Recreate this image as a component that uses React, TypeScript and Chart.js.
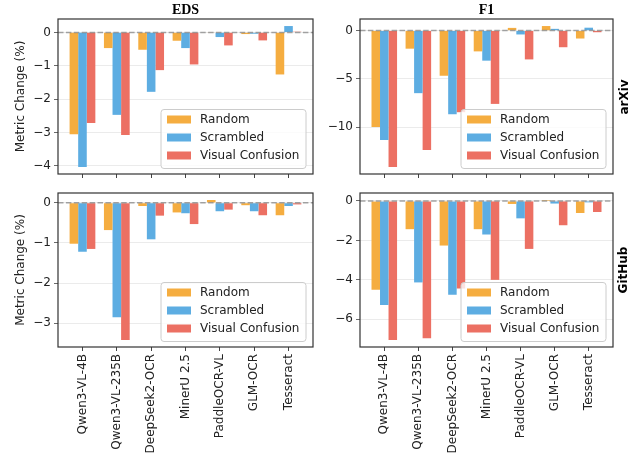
import React, { useEffect, useRef } from 'react';
import { Chart, registerables } from 'chart.js';

Chart.register(...registerables);

const categories = ['Qwen3-VL-4B', 'Qwen3-VL-235B', 'DeepSeek2-OCR', 'MinerU 2.5', 'PaddleOCR-VL', 'GLM-OCR', 'Tesseract'];
const seriesNames = ['Random', 'Scrambled', 'Visual Confusion'];
const seriesColors = ['#F5AD40', '#5DADE2', '#EC7063'];

// EDS, arXiv
const edsArxivRandom = [-3.05, -0.47, -0.52, -0.25, -0.01, -0.05, -1.26];
const edsArxivScrambled = [-4.03, -2.47, -1.78, -0.47, -0.14, -0.04, 0.19];
const edsArxivConfusion = [-2.71, -3.07, -1.13, -0.96, -0.39, -0.24, 0.02];
// F1, arXiv
const f1ArxivRandom = [-9.97, -1.87, -4.67, -2.15, 0.28, 0.47, -0.82];
const f1ArxivScrambled = [-11.3, -6.47, -8.65, -3.11, -0.4, 0.18, 0.3];
const f1ArxivConfusion = [-14.1, -12.35, -8.44, -7.58, -2.98, -1.72, -0.17];
// EDS, GitHub
const edsGithubRandom = [-1.02, -0.68, -0.08, -0.24, 0.07, -0.06, -0.31];
const edsGithubScrambled = [-1.22, -2.85, -0.91, -0.26, -0.21, -0.21, -0.08];
const edsGithubConfusion = [-1.15, -3.42, -0.32, -0.53, -0.17, -0.31, -0.04];
// F1, GitHub
const f1GithubRandom = [-4.5, -1.43, -2.26, -1.43, -0.15, 0.05, -0.61];
const f1GithubScrambled = [-5.28, -4.13, -4.76, -1.7, -0.88, -0.13, -0.07];
const f1GithubConfusion = [-7.05, -6.96, -4.44, -4.0, -2.43, -1.23, -0.56];

const edsArxivTicks = [0, -1, -2, -3, -4];
const f1ArxivTicks = [0, -5, -10];
const edsGithubTicks = [0, -1, -2, -3];
const f1GithubTicks = [0, -2, -4, -6];

const FONT = '"DejaVu Sans", sans-serif';
const TEXT = '#222222';

const fmt = (v: number) => (v < 0 ? '\u2212' + Math.abs(v) : String(v));

const decor = {
  id: 'decor',
  afterDatasetsDraw(chart: any) {
    const { ctx, chartArea: a, scales } = chart;
    const y0 = scales.y.getPixelForValue(0);
    ctx.save();
    // zero line
    ctx.beginPath();
    ctx.setLineDash([5.5, 2.4]);
    ctx.strokeStyle = 'rgba(128,128,128,0.7)';
    ctx.lineWidth = 1.5;
    ctx.moveTo(a.left, y0);
    ctx.lineTo(a.right, y0);
    ctx.stroke();
    ctx.setLineDash([]);
    // frame
    ctx.strokeStyle = '#333333';
    ctx.lineWidth = 1.2;
    ctx.strokeRect(a.left, a.top, a.right - a.left, a.bottom - a.top);
    // legend
    const bw = 145, bh = 59;
    const bx = a.right - 7 - bw;
    const by = a.bottom - 5.5 - bh;
    ctx.beginPath();
    ctx.roundRect(bx, by, bw, bh, 3);
    ctx.fillStyle = 'rgba(255,255,255,0.8)';
    ctx.fill();
    ctx.strokeStyle = '#cccccc';
    ctx.lineWidth = 1;
    ctx.stroke();
    ctx.font = '12px ' + FONT;
    ctx.textBaseline = 'middle';
    ctx.textAlign = 'left';
    chart.data.datasets.forEach((ds: any, k: number) => {
      const cy = by + 10 + k * 18;
      ctx.fillStyle = ds.backgroundColor;
      ctx.fillRect(bx + 6, cy - 4, 24, 8);
      ctx.fillStyle = TEXT;
      ctx.fillText(ds.label, bx + 39, cy + 0.5);
    });
    ctx.restore();
  },
};

type PanelProps = {
  series: number[][];
  ticks: number[];
  left: number;
  top: number;
  width: number;
  height: number;
  padRight: number;
  padTop: number;
  yAxisWidth: number;
  xAxisHeight: number;
  showXLabels: boolean;
  showYTitle: boolean;
};

function Panel(p: PanelProps) {
  const ref = useRef<HTMLCanvasElement | null>(null);
  useEffect(() => {
    const all = p.series.flat();
    const lo = Math.min(...all);
    const hi = Math.max(...all);
    const m = (hi - lo) * 0.05;
    const datasets = seriesNames.map((name, k) => ({
      label: name,
      data: p.series[k].map((y, i) => ({ x: i, y })),
      backgroundColor: seriesColors[k],
      borderWidth: 0,
      categoryPercentage: 0.75,
      barPercentage: 1.0,
    }));
    const chart = new Chart(ref.current as HTMLCanvasElement, {
      type: 'bar',
      data: { datasets } as any,
      options: {
        animation: false,
        responsive: false,
        maintainAspectRatio: false,
        layout: { padding: { left: 0, right: p.padRight, top: p.padTop, bottom: 0 } },
        plugins: { legend: { display: false }, tooltip: { enabled: false } },
        scales: {
          x: {
            type: 'linear',
            offset: false,
            min: -0.7125,
            max: 6.7125,
            afterBuildTicks: (sc: any) => {
              sc.ticks = categories.map((_, i) => ({ value: i }));
            },
            ticks: {
              display: p.showXLabels,
              callback: (v: any) => categories[v as number],
              minRotation: 90,
              maxRotation: 90,
              autoSkip: false,
              font: { family: FONT, size: 12 },
              color: TEXT,
              padding: 3,
            },
            grid: { drawOnChartArea: false, drawTicks: true, tickLength: 4, tickColor: '#444444', offset: false },
            border: { display: false },
            afterFit: (sc: any) => {
              sc.height = p.xAxisHeight;
              sc.paddingLeft = 0;
              sc.paddingRight = 0;
            },
          },
          y: {
            type: 'linear',
            min: lo - m,
            max: hi + m,
            afterBuildTicks: (sc: any) => {
              sc.ticks = p.ticks.map((value) => ({ value }));
            },
            ticks: {
              callback: (v: any) => fmt(v as number),
              font: { family: FONT, size: 12 },
              color: TEXT,
              padding: 3,
            },
            grid: { color: '#e6e6e6', lineWidth: 0.8, tickLength: 4, tickColor: '#444444' },
            border: { display: false },
            title: {
              display: p.showYTitle,
              text: 'Metric Change (%)',
              font: { family: FONT, size: 12 },
              color: TEXT,
              padding: { top: 14, bottom: 0 },
            },
            afterFit: (sc: any) => {
              sc.width = p.yAxisWidth;
              sc.paddingTop = 0;
              sc.paddingBottom = 0;
            },
          },
        },
      } as any,
      plugins: [decor],
    });
    return () => chart.destroy();
  }, []);
  return (
    <canvas
      ref={ref}
      width={p.width}
      height={p.height}
      style={{ position: 'absolute', left: p.left, top: p.top, width: p.width, height: p.height }}
    />
  );
}

const colTitle = (text: string, left: number, width: number) => (
  <div
    style={{
      position: 'absolute',
      left,
      width,
      top: 1,
      textAlign: 'center',
      font: 'bold 14px "Liberation Serif", serif',
      color: '#000',
      lineHeight: '17px',
    }}
  >
    {text}
  </div>
);

const rowTitle = (text: string, cx: number, cy: number) => (
  <div
    style={{
      position: 'absolute',
      left: cx,
      top: cy,
      transform: 'translate(-50%, -50%) rotate(-90deg)',
      font: 'bold 12px "DejaVu Sans", sans-serif',
      color: '#000',
      whiteSpace: 'nowrap',
      lineHeight: '14px',
    }}
  >
    {text}
  </div>
);

export default function App() {
  return (
    <div style={{ position: 'absolute', left: 0, top: 0, width: 634, height: 456, background: '#fff', overflow: 'hidden' }}>
      <Panel
        series={[edsArxivRandom, edsArxivScrambled, edsArxivConfusion]}
        ticks={edsArxivTicks}
        left={0} top={0} width={320} height={190}
        padRight={7} padTop={19} yAxisWidth={58} xAxisHeight={16}
        showXLabels={false} showYTitle={true}
      />
      <Panel
        series={[f1ArxivRandom, f1ArxivScrambled, f1ArxivConfusion]}
        ticks={f1ArxivTicks}
        left={320} top={0} width={314} height={190}
        padRight={21} padTop={19} yAxisWidth={40} xAxisHeight={16}
        showXLabels={false} showYTitle={false}
      />
      <Panel
        series={[edsGithubRandom, edsGithubScrambled, edsGithubConfusion]}
        ticks={edsGithubTicks}
        left={0} top={190} width={320} height={266}
        padRight={7} padTop={3} yAxisWidth={58} xAxisHeight={109}
        showXLabels={true} showYTitle={true}
      />
      <Panel
        series={[f1GithubRandom, f1GithubScrambled, f1GithubConfusion]}
        ticks={f1GithubTicks}
        left={320} top={190} width={314} height={266}
        padRight={21} padTop={3} yAxisWidth={40} xAxisHeight={109}
        showXLabels={true} showYTitle={false}
      />
      {colTitle('EDS', 58, 255)}
      {colTitle('F1', 360, 253)}
      {rowTitle('arXiv', 624, 97)}
      {rowTitle('GitHub', 623, 270)}
    </div>
  );
}
